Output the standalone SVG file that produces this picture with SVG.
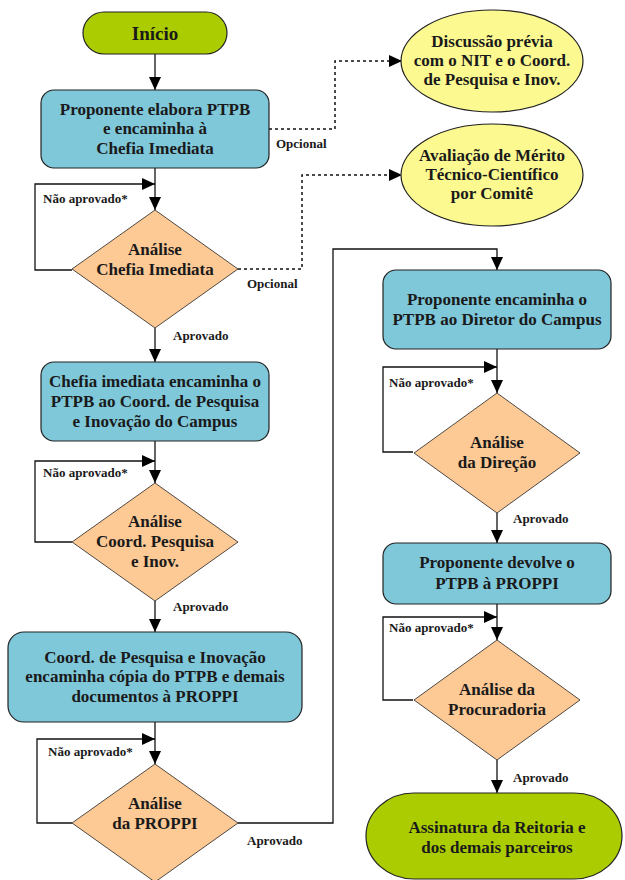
<svg xmlns="http://www.w3.org/2000/svg" width="625" height="880" viewBox="0 0 625 880">
<defs>
<marker id="ah" markerUnits="userSpaceOnUse" markerWidth="14" markerHeight="12" refX="13" refY="6" orient="auto"><path d="M0,0 L13,6 L0,12 z" fill="#000"/></marker>
<style>
.box{fill:#7fc8da;stroke:#222;stroke-width:1.2}
.dia{fill:#fdc995;stroke:#222;stroke-width:0.8}
.ell{fill:#fbf98f;stroke:#222;stroke-width:1.2}
.term{fill:#aacc00;stroke:#222;stroke-width:1.2}
.t{font-family:"Liberation Serif",serif;font-weight:bold;font-size:17px;fill:#1a1a1a;text-anchor:middle}
.lbl{font-family:"Liberation Serif",serif;font-weight:bold;font-size:13px;fill:#1a1a1a}
.c{fill:none;stroke:#111;stroke-width:1.3}
.d{fill:none;stroke:#111;stroke-width:1.5;stroke-dasharray:3,3}
</style>
</defs>
<rect width="625" height="880" fill="#fff"/>
<g id="connectors">
<path class="c" d="M155,54 V90" marker-end="url(#ah)"/>
<path class="c" d="M155,168 V210" marker-end="url(#ah)"/>
<path class="c" d="M72,270 H35 V184 H155" marker-end="url(#ah)"/>
<path class="c" d="M155,328 V362" marker-end="url(#ah)"/>
<path class="c" d="M155,441 V483" marker-end="url(#ah)"/>
<path class="c" d="M72,542 H35 V461 H155" marker-end="url(#ah)"/>
<path class="c" d="M155,601 V632" marker-end="url(#ah)"/>
<path class="c" d="M155,722 V764" marker-end="url(#ah)"/>
<path class="c" d="M72,823 H37 V739 H155" marker-end="url(#ah)"/>
<path class="c" d="M238,823 H333 V249 H497 V270" marker-end="url(#ah)"/>
<path class="c" d="M497,349 V393" marker-end="url(#ah)"/>
<path class="c" d="M413,452 H383 V367 H497" marker-end="url(#ah)"/>
<path class="c" d="M497,513 V543" marker-end="url(#ah)"/>
<path class="c" d="M497,604 V640" marker-end="url(#ah)"/>
<path class="c" d="M413,700 H383 V617 H497" marker-end="url(#ah)"/>
<path class="c" d="M497,760 V793" marker-end="url(#ah)"/>
<path class="d" d="M269,129 H335 V61 H402" marker-end="url(#ah)"/>
<path class="d" d="M238,269 H302 V175 H402" marker-end="url(#ah)"/>
<text class="lbl" x="43" y="203">Não aprovado*</text>
<text class="lbl" x="276" y="148">Opcional</text>
<text class="lbl" x="247" y="288">Opcional</text>
<text class="lbl" x="173" y="340">Aprovado</text>
<text class="lbl" x="43" y="477">Não aprovado*</text>
<text class="lbl" x="173" y="611">Aprovado</text>
<text class="lbl" x="48" y="756">Não aprovado*</text>
<text class="lbl" x="247" y="845">Aprovado</text>
<text class="lbl" x="389" y="387">Não aprovado*</text>
<text class="lbl" x="513" y="523">Aprovado</text>
<text class="lbl" x="389" y="632">Não aprovado*</text>
<text class="lbl" x="513" y="782">Aprovado</text>
</g>
<g id="inicio">
<rect class="term" x="83" y="12" width="144" height="42" rx="21"/>
<text class="t" x="155" y="40" style="font-size:19px">Início</text>
</g>
<g id="box1">
<rect class="box" x="41" y="90" width="228" height="78" rx="13"/>
<text class="t" x="155" y="115">Proponente elabora PTPB</text>
<text class="t" x="155" y="134">e encaminha à</text>
<text class="t" x="155" y="154">Chefia Imediata</text>
</g>
<g id="ell1">
<ellipse class="ell" cx="492" cy="61" rx="91" ry="51"/>
<text class="t" x="492" y="47">Discussão prévia</text>
<text class="t" x="492" y="66">com o NIT e o Coord.</text>
<text class="t" x="492" y="85">de Pesquisa e Inov.</text>
</g>
<g id="ell2">
<ellipse class="ell" cx="492" cy="175" rx="91" ry="51"/>
<text class="t" x="492" y="161">Avaliação de Mérito</text>
<text class="t" x="492" y="180">Técnico-Científico</text>
<text class="t" x="492" y="199">por Comitê</text>
</g>
<g id="dia1">
<path class="dia" d="M155,210 L238,269 L155,328 L72,269 Z"/>
<text class="t" x="155" y="255">Análise</text>
<text class="t" x="155" y="275">Chefia Imediata</text>
</g>
<g id="box2">
<rect class="box" x="41" y="362" width="228" height="79" rx="13"/>
<text class="t" x="155" y="387">Chefia imediata encaminha o</text>
<text class="t" x="155" y="407">PTPB ao Coord. de Pesquisa</text>
<text class="t" x="155" y="427">e Inovação do Campus</text>
</g>
<g id="dia2">
<path class="dia" d="M155,483 L238,542 L155,601 L72,542 Z"/>
<text class="t" x="155" y="527">Análise</text>
<text class="t" x="155" y="547">Coord. Pesquisa</text>
<text class="t" x="155" y="567">e Inov.</text>
</g>
<g id="box3">
<rect class="box" x="8" y="632" width="294" height="90" rx="16"/>
<text class="t" x="155" y="663">Coord. de Pesquisa e Inovação</text>
<text class="t" x="155" y="682">encaminha cópia do PTPB e demais</text>
<text class="t" x="155" y="702">documentos à PROPPI</text>
</g>
<g id="dia3">
<path class="dia" d="M155,764 L238,823 L155,882 L72,823 Z"/>
<text class="t" x="155" y="809">Análise</text>
<text class="t" x="155" y="829">da PROPPI</text>
</g>
<g id="box4">
<rect class="box" x="383" y="270" width="228" height="79" rx="13"/>
<text class="t" x="497" y="305">Proponente encaminha o</text>
<text class="t" x="497" y="325">PTPB ao Diretor do Campus</text>
</g>
<g id="dia4">
<path class="dia" d="M497,393 L580,453 L497,513 L414,453 Z"/>
<text class="t" x="497" y="448">Análise</text>
<text class="t" x="497" y="468">da Direção</text>
</g>
<g id="box5">
<rect class="box" x="383" y="543" width="228" height="61" rx="13"/>
<text class="t" x="497" y="568">Proponente devolve o</text>
<text class="t" x="497" y="589">PTPB à PROPPI</text>
</g>
<g id="dia5">
<path class="dia" d="M497,640 L580,700 L497,760 L414,700 Z"/>
<text class="t" x="497" y="695">Análise da</text>
<text class="t" x="497" y="715">Procuradoria</text>
</g>
<g id="fim">
<rect class="term" x="366" y="793" width="256" height="86" rx="48"/>
<text class="t" x="497" y="833">Assinatura da Reitoria e</text>
<text class="t" x="497" y="853">dos demais parceiros</text>
</g>
</svg>
